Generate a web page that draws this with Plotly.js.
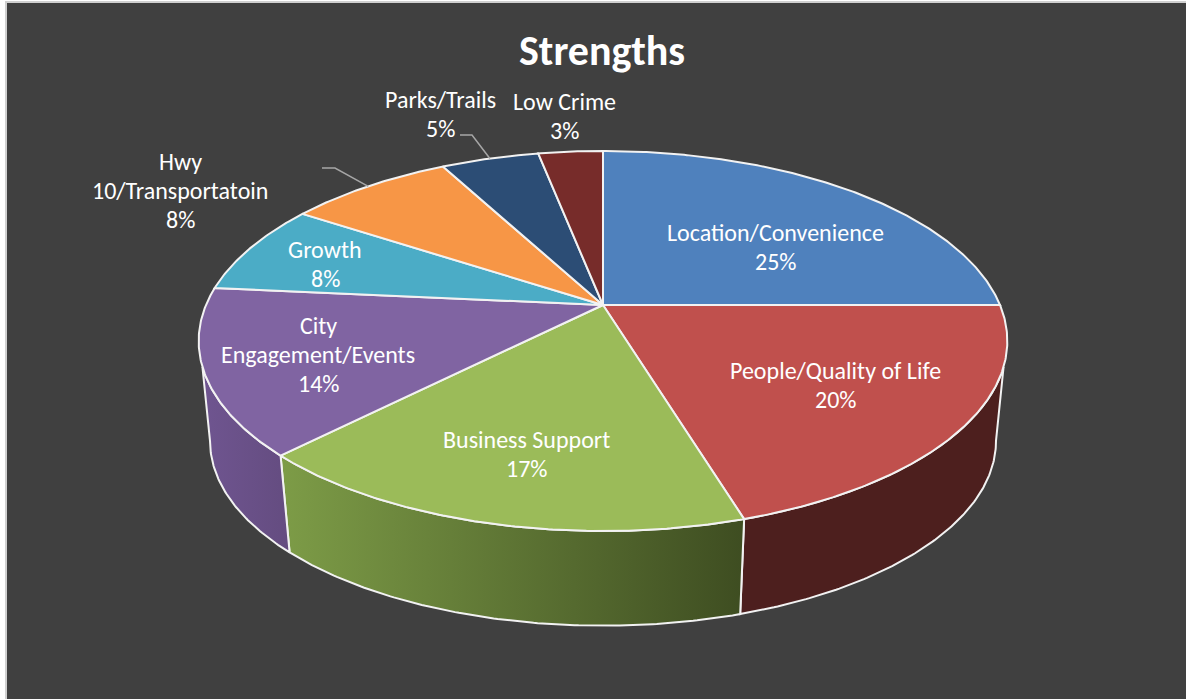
<!DOCTYPE html>
<html>
<head>
<meta charset="utf-8">
<script src="https://cdn.plot.ly/plotly-3.0.1.min.js"></script>
<style>html,body{margin:0;padding:0;background:#fff;overflow:hidden}#chart{width:1186px;height:699px}</style>
</head>
<body>
<div id="chart"></div>
<script>
// Data
const categories = ['Location/Convenience','People/Quality of Life','Business Support','City Engagement/Events','Growth','Hwy 10/Transportatoin','Parks/Trails','Low Crime'];
const values = [25, 20.3, 17.1, 14.1, 7.75, 7.95, 4.7, 3.1];
const percentLabels = ['25%','20%','17%','14%','8%','8%','5%','3%'];
const topColors = ['#4f81bd','#c0504d','#9bbb59','#8064a2','#4bacc6','#f79646','#2c4d75','#772c2a'];
// Side wall gradient stops (left to right) for the slices that face the viewer
const wallStart = ['#4d1f1e','#4d1f1e','#7d9c47','#6f5590','','','',''];
const wallEnd   = ['#4d1f1e','#4d1f1e','#3e4d21','#644c80','','','',''];
// Label lines and their anchor points
const labelLines = [['Location/Convenience','25%'],['People/Quality of Life','20%'],['Business Support','17%'],['City','Engagement/Events','14%'],['Growth','8%'],['Hwy','10/Transportatoin','8%'],['Parks/Trails','5%'],['Low Crime','3%']];
const labelX = [775,835,526,318,325,180,440,564];
const labelY = [232,370,439,325,249,161,99,101];
const lineStep = 29;
const leaderSlices = [5,6];
const leaderKnees = [[335,168,322],[472,135,460]];

// Perspective projection of the pie disc
const apexX = 603, apexY = 305, radX = 397, radY = 183.2, persp = 0.1895;
const depthScale = 0.972, depthDrop = 101;
const rad = d => d*Math.PI/180;
function topPt(deg){
  const u = Math.sin(rad(deg)), v = Math.cos(rad(deg)), d = 1 + persp*v;
  return [apexX + radX*u/d, apexY - radY*v/d];
}
function botPt(deg){
  const p = topPt(deg);
  return [apexX + (p[0]-apexX)*depthScale, apexY + (p[1]-apexY)*depthScale + depthDrop];
}
function arc(fn, a, b){
  const n = Math.max(2, Math.ceil(Math.abs(b-a)/0.5)), out = [];
  for(let i=0;i<=n;i++) out.push(fn(a+(b-a)*i/n));
  return out;
}
const total = values.reduce((s,v)=>s+v,0);
const edges = [0];
values.forEach(v=>edges.push(edges[edges.length-1]+v/total*360));

const traces = [];
const rimTopR = 108.5, rimBotR = 100.9, rimTopL = 251.5, rimBotL = 259.1;

// Side walls
[1,2,3].forEach(i=>{
  const a = edges[i], b = edges[i+1];
  const ta = Math.max(a,rimTopR), tb = Math.min(b,rimTopL);
  const ba = i===1 ? rimBotR : a, bb = i===3 ? rimBotL : b;
  const pts = arc(topPt,ta,tb).concat(arc(botPt,bb,ba));
  pts.push(pts[0]);
  traces.push({type:'scatter',mode:'lines',x:pts.map(p=>p[0]),y:pts.map(p=>p[1]),fill:'toself',
    fillgradient:{type:'horizontal',colorscale:[[0,wallStart[i]],[1,wallEnd[i]]]},
    line:{color:'#f2f2f2',width:2},hoverinfo:'skip',showlegend:false});
});
// Top faces
values.forEach((v,i)=>{
  const pts = [[apexX,apexY]].concat(arc(topPt,edges[i],edges[i+1]));
  pts.push([apexX,apexY]);
  traces.push({type:'scatter',mode:'lines',name:categories[i],x:pts.map(p=>p[0]),y:pts.map(p=>p[1]),fill:'toself',fillcolor:topColors[i],
    line:{color:'#f2f2f2',width:2},hoverinfo:'name',showlegend:false});
});
// Leader lines
leaderSlices.forEach((s,k)=>{
  const m = topPt((edges[s]+edges[s+1])/2), kn = leaderKnees[k];
  traces.push({type:'scatter',mode:'lines',x:[kn[2],kn[0],m[0]],y:[kn[1],kn[1],m[1]],line:{color:'#a6a6a6',width:1.5},hoverinfo:'skip',showlegend:false});
});

const FONT = 'Carlito, Calibri, Lato, sans-serif';
const annotations = [{x:602,y:50,text:'Strengths',showarrow:false,xanchor:'center',yanchor:'middle',xref:'x',yref:'y',font:{family:FONT,size:42,color:'#fff',weight:700}}];
labelLines.forEach((lines,i)=>{
  lines.forEach((t,j)=>annotations.push({x:labelX[i],y:labelY[i]+j*lineStep,text:t,showarrow:false,xanchor:'center',yanchor:'middle',xref:'x',yref:'y',
    font:{family:FONT,size:24,color:'#fff'}}));
});

Plotly.newPlot('chart',traces,{
  width:1186,height:699,margin:{l:0,r:0,t:0,b:0,pad:0},
  paper_bgcolor:'#ffffff',plot_bgcolor:'#ffffff',showlegend:false,
  xaxis:{range:[0,1186],visible:false,fixedrange:true},
  yaxis:{range:[699,0],visible:false,fixedrange:true},
  shapes:[{type:'rect',xref:'x',yref:'y',x0:6,y0:2,x1:1190,y1:703,fillcolor:'#404040',line:{color:'#d0d0d0',width:2},layer:'below'}],
  annotations:annotations
},{displayModeBar:false,staticPlot:false});
</script>
</body>
</html>
